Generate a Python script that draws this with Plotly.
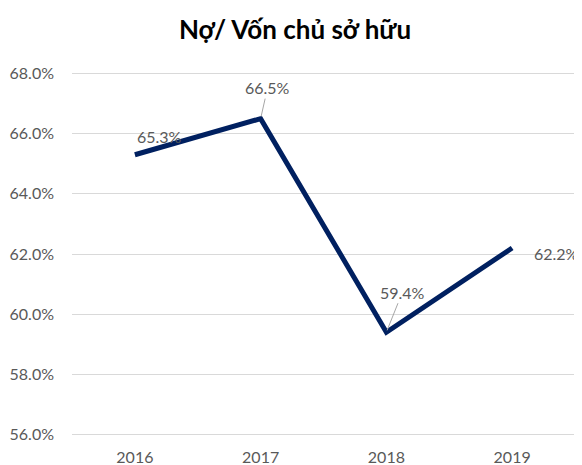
import plotly.graph_objects as go

years = ["2016", "2017", "2018", "2019"]
ratio = [65.3, 66.5, 59.4, 62.2]
y_ticks = [56, 58, 60, 62, 64, 66, 68]
title_text = "Nợ/ Vốn chủ sở hữu"

# label offsets (pixels) and whether a leader line is visible
label_offsets = [(25, -18, False), (7, -31, True), (16, -40, True), (44, 6, False)]

FONT = "Lato, 'Open Sans', sans-serif"
W, H = 574, 457  # page body has an 8px margin

fig = go.Figure()
fig.add_trace(go.Scatter(
    x=years, y=ratio, mode="lines",
    line=dict(color="#002060", width=5),
    hoverinfo="skip",
))

for i, (yv, (ax, ay, lead)) in enumerate(zip(ratio, label_offsets)):
    fig.add_annotation(
        x=i, y=yv, xref="x", yref="y",
        text=f"{yv:.1f}%",
        showarrow=True, arrowhead=0, arrowwidth=1,
        arrowcolor="#A6A6A6" if lead else "rgba(0,0,0,0)",
        ax=ax, ay=ay, standoff=2,
        font=dict(family=FONT, size=16, color="#595959"),
    )

fig.update_layout(
    width=W, height=H,
    margin=dict(l=64, r=7, t=64, b=29, autoexpand=False),
    paper_bgcolor="white", plot_bgcolor="white",
    showlegend=False,
    title=dict(text=f"<b>{title_text}</b>", x=0.5, xanchor="center",
               y=1 - 22 / H, yanchor="middle", automargin=False,
               font=dict(family=FONT, size=26, color="#000000")),
    font=dict(family=FONT, size=16, color="#595959"),
)
fig.update_xaxes(
    type="category", range=[-0.5, len(years) - 0.5], automargin=False,
    showgrid=False, showline=False, zeroline=False,
    ticks="", tickfont=dict(family=FONT, size=16, color="#595959"),
    ticklabelstandoff=10,
)
fig.update_yaxes(
    range=[55.95, 68.05], tickvals=y_ticks, automargin=False,
    ticktext=[f"{v:.1f}%" for v in y_ticks],
    showgrid=True, gridcolor="#D9D9D9", gridwidth=1,
    zeroline=False, showline=False, ticks="",
    tickfont=dict(family=FONT, size=16, color="#595959"),
    ticklabelstandoff=17,
)

fig.write_html("out.html")
